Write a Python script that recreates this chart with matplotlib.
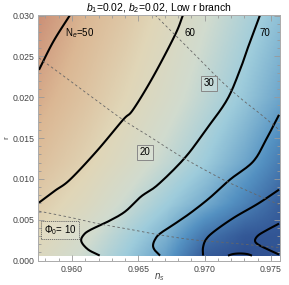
import numpy as np
import matplotlib
matplotlib.use('Agg')
import matplotlib.pyplot as plt
from matplotlib.colors import LinearSegmentedColormap

plt.rcParams['font.family'] = ['Liberation Sans', 'DejaVu Sans']
plt.rcParams['mathtext.fontset'] = 'custom'
plt.rcParams['mathtext.rm'] = 'Liberation Sans'
plt.rcParams['mathtext.it'] = 'Liberation Sans:italic'

# background density (colour level, 0 = dark blue, 1 = orange)
bg_ns = [0.9575, 0.961, 0.964, 0.967, 0.970, 0.973, 0.9756]
bg_r = [0.0006, 0.003, 0.007, 0.012, 0.020, 0.030]
bg_level = [
    [0.70, 0.58, 0.45, 0.30, 0.06, 0.02, 0.04],
    [0.74, 0.62, 0.49, 0.36, 0.15, 0.05, 0.04],
    [0.80, 0.70, 0.58, 0.46, 0.34, 0.20, 0.08],
    [0.86, 0.77, 0.67, 0.56, 0.45, 0.32, 0.18],
    [0.93, 0.84, 0.75, 0.65, 0.54, 0.43, 0.32],
    [1.00, 0.90, 0.82, 0.72, 0.61, 0.50, 0.41],
]

# N_e contours (solid black)
ne50_ns = [0.95751, 0.95859, 0.95985]
ne50_r = [0.02336, 0.02682, 0.03008]
ne60_ns = [0.95751, 0.95872, 0.95985, 0.96189, 0.96385, 0.96460, 0.96611, 0.96777, 0.96837]
ne60_r = [0.00709, 0.00856, 0.00991, 0.01345, 0.01724, 0.01847, 0.02250, 0.02764, 0.03008]
ne70_ns = [0.96209, 0.96121, 0.96070, 0.96090, 0.96143, 0.96271, 0.96400, 0.96520,
           0.96648, 0.96852, 0.97010, 0.97169, 0.97267, 0.97320, 0.97418]
ne70_r = [0.00061, 0.00135, 0.00236, 0.00318, 0.00379, 0.00477, 0.00599, 0.00783,
          0.00929, 0.01260, 0.01602, 0.01969, 0.02336, 0.02580, 0.03008]
ne80_ns = [0.96664, 0.96626, 0.96611, 0.96626, 0.96664, 0.96777, 0.96897, 0.97040,
           0.97191, 0.97365, 0.97463, 0.97561]
ne80_r = [0.00060, 0.00122, 0.00183, 0.00257, 0.00330, 0.00452, 0.00587, 0.00770,
          0.00991, 0.01211, 0.01480, 0.01785]
ne90_ns = [0.96988, 0.96988, 0.97010, 0.97071, 0.97222, 0.97403, 0.97561]
ne90_r = [0.00061, 0.00159, 0.00257, 0.00355, 0.00526, 0.00697, 0.00868]
ne100_ns = [0.97561, 0.97478, 0.97403, 0.97380, 0.97403, 0.97463, 0.97561]
ne100_r = [0.00073, 0.00135, 0.00196, 0.00245, 0.00306, 0.00367, 0.00452]
ne110_ns = [0.97176, 0.97214, 0.97267, 0.97320, 0.97357]
ne110_r = [0.00060, 0.00079, 0.00086, 0.00079, 0.00060]

# Phi_0 contours (dashed grey)
phi10_ns = [0.95751, 0.95992, 0.96196, 0.96445, 0.96648, 0.96897, 0.97154, 0.97561]
phi10_r = [0.00605, 0.00526, 0.00452, 0.00379, 0.00318, 0.00257, 0.00220, 0.00159]
phi20_ns = [0.95751, 0.95955, 0.96158, 0.96385, 0.96588, 0.96837, 0.97139, 0.97304, 0.97561]
phi20_r = [0.02482, 0.02238, 0.01993, 0.01724, 0.01516, 0.01260, 0.00991, 0.00868, 0.00685]
phi30_ns = [0.96626, 0.96762, 0.96943, 0.97116, 0.97267, 0.97418, 0.97561]
phi30_r = [0.03008, 0.02788, 0.02495, 0.02213, 0.01993, 0.01798, 0.01602]

cmap = LinearSegmentedColormap.from_list('m10', [
    (0.00, (0.17, 0.29, 0.55)),
    (0.25, (0.33, 0.57, 0.76)),
    (0.45, (0.62, 0.80, 0.86)),
    (0.60, (0.82, 0.86, 0.81)),
    (0.75, (0.88, 0.84, 0.72)),
    (0.90, (0.86, 0.72, 0.58)),
    (1.00, (0.80, 0.57, 0.47)),
])


def smooth(xs, ys, n=12):
    # Catmull-Rom pass through the read points, only to draw a smooth curve
    p = np.column_stack([xs, ys]).astype(float)
    p = np.vstack([2 * p[0] - p[1], p, 2 * p[-1] - p[-2]])
    out = []
    t = np.linspace(0, 1, n, endpoint=False)[:, None]
    for i in range(1, len(p) - 2):
        p0, p1, p2, p3 = p[i - 1], p[i], p[i + 1], p[i + 2]
        seg = 0.5 * (2 * p1 + (-p0 + p2) * t + (2 * p0 - 5 * p1 + 4 * p2 - p3) * t ** 2
                     + (-p0 + 3 * p1 - 3 * p2 + p3) * t ** 3)
        out.append(seg)
    out.append(p[-2][None, :])
    out = np.vstack(out)
    return out[:, 0], out[:, 1]


fig = plt.figure(figsize=(2.89, 2.85), dpi=100)
ax = fig.add_axes([38.5 / 289, 24.5 / 285, 241 / 289, 245.5 / 285])

# resample the coarse grid onto a fine one for a smooth shading
fine_ns = np.linspace(bg_ns[0], bg_ns[-1], 200)
fine_r = np.linspace(bg_r[0], bg_r[-1], 200)
lev = np.array(bg_level)
tmp = np.array([np.interp(fine_ns, bg_ns, row) for row in lev])
field = np.array([np.interp(fine_r, bg_r, tmp[:, j]) for j in range(len(fine_ns))]).T
ax.imshow(field, origin='lower', aspect='auto', cmap=cmap, vmin=0, vmax=1,
          extent=[bg_ns[0], bg_ns[-1], bg_r[0], bg_r[-1]], interpolation='bilinear')

for xs, ys in [(ne50_ns, ne50_r), (ne60_ns, ne60_r), (ne70_ns, ne70_r), (ne80_ns, ne80_r),
               (ne90_ns, ne90_r), (ne100_ns, ne100_r), (ne110_ns, ne110_r)]:
    sx, sy = smooth(xs, ys)
    ax.plot(sx, sy, color='black', lw=1.5, solid_capstyle='butt')

for xs, ys in [(phi10_ns, phi10_r), (phi20_ns, phi20_r), (phi30_ns, phi30_r)]:
    sx, sy = smooth(xs, ys)
    ax.plot(sx, sy, color='#666666', lw=0.6, dashes=(3, 3))

ax.text(0.95947, 0.02788, r'N$_e$=50', fontsize=7, va='center', ha='left')
ax.text(0.96890, 0.02788, '60', fontsize=7, va='center', ha='center')
ax.text(0.97455, 0.02788, '70', fontsize=7, va='center', ha='center')

box = dict(boxstyle='square,pad=0.25', fc=(1, 1, 1, 0.15), ec='#888888', lw=0.7)
ax.text(0.97031, 0.02171, '30', fontsize=7, va='center', ha='center', bbox=box)
ax.text(0.96550, 0.01327, '20', fontsize=7, va='center', ha='center', bbox=box)
box2 = dict(boxstyle='square,pad=0.25', fc=(1, 1, 1, 0.15), ec='#666666', lw=0.6, ls=(0, (1.5, 1)))
ax.text(0.95910, 0.00373, r'$\Phi_0$= 10', fontsize=7, va='center', ha='center', bbox=box2)

ax.set_xlim(0.957474, 0.975646)
ax.set_ylim(0.0, 0.03008)
ax.set_xticks([0.960, 0.965, 0.970, 0.975])
ax.set_xticklabels(['0.960', '0.965', '0.970', '0.975'])
ax.set_xticks(np.arange(0.958, 0.9756, 0.001), minor=True)
ax.set_yticks([0.0, 0.005, 0.010, 0.015, 0.020, 0.025, 0.030])
ax.set_yticklabels(['0.000', '0.005', '0.010', '0.015', '0.020', '0.025', '0.030'])
ax.set_yticks(np.arange(0.0, 0.0301, 0.001), minor=True)
ax.tick_params(which='both', direction='in', top=True, right=True, color='#999999',
               labelsize=6.3, labelcolor='#444444', width=0.6)
ax.tick_params(which='major', length=4, pad=3)
ax.tick_params(which='minor', length=2)
for s in ax.spines.values():
    s.set_color('#aaaaaa')
    s.set_linewidth(0.7)

ax.set_xlabel(r'$n_s$', fontsize=7, color='#444444')
ax.xaxis.set_label_coords(0.5, -0.045)
ax.set_ylabel('r', fontsize=6, color='#444444')
ax.yaxis.set_label_coords(-0.115, 0.5)
ax.set_title(r'$b_1$=0.02, $b_2$=0.02, Low r branch', fontsize=7.5, pad=2)

fig.savefig('out.png', dpi=100)
